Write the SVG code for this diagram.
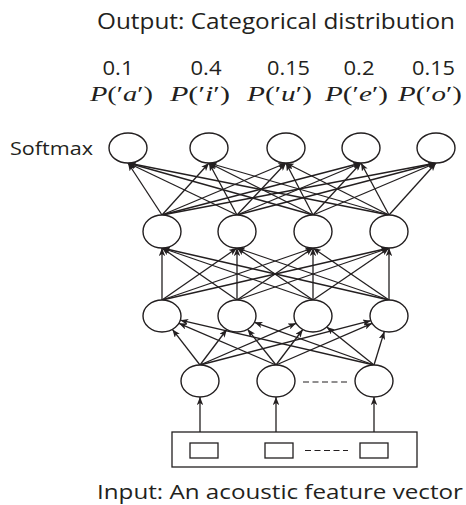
<svg xmlns="http://www.w3.org/2000/svg" width="466" height="505" viewBox="0 0 466 505">
  <style>
    .label { font-family: "Open Sans", "Liberation Sans", sans-serif; fill: #231f20; }
    .math { font-family: "Liberation Serif", "DejaVu Serif", serif; fill: #231f20; font-size: 20px; }
    .math .v { font-style: italic; }
    .node { fill: #fff; stroke: #231f20; stroke-width: 1.4; }
    .box { fill: #fff; stroke: #231f20; stroke-width: 1.3; }
    .edge { stroke: #231f20; stroke-width: 1.3; fill: none; marker-end: url(#arrow); }
    .dash { stroke: #231f20; stroke-width: 1.2; stroke-dasharray: 6 3.5; }
  </style>
  <defs>
    <marker id="arrow" viewBox="0 0 10 8" markerWidth="8" markerHeight="6.4" refX="10" refY="4" orient="auto" markerUnits="userSpaceOnUse">
      <path d="M0,0 L10,4 L0,8 L2.5,4 z" fill="#231f20"/>
    </marker>
  </defs>

  <rect width="466" height="505" fill="#fff"/>

  <!-- headings -->
  <text class="label" x="97" y="29" font-size="21" textLength="358" lengthAdjust="spacingAndGlyphs">Output: Categorical distribution</text>
  <text class="label" x="10" y="155" font-size="19" textLength="83" lengthAdjust="spacingAndGlyphs">Softmax</text>
  <text class="label" x="97" y="499" font-size="20" textLength="366" lengthAdjust="spacingAndGlyphs">Input: An acoustic feature vector</text>

  <!-- class probabilities -->
  <g class="label" font-size="20" text-anchor="middle">
    <text x="118" y="75" textLength="31" lengthAdjust="spacingAndGlyphs">0.1</text>
    <text x="206" y="75" textLength="31" lengthAdjust="spacingAndGlyphs">0.4</text>
    <text x="288.5" y="75" textLength="43" lengthAdjust="spacingAndGlyphs">0.15</text>
    <text x="359" y="75" textLength="31" lengthAdjust="spacingAndGlyphs">0.2</text>
    <text x="433.5" y="75" textLength="43" lengthAdjust="spacingAndGlyphs">0.15</text>
  </g>
  <g class="math">
    <text x="90" y="101" textLength="63" lengthAdjust="spacingAndGlyphs"><tspan class="v">P</tspan>(′<tspan class="v">a</tspan>′)</text>
    <text x="170" y="101" textLength="60" lengthAdjust="spacingAndGlyphs"><tspan class="v">P</tspan>(′<tspan class="v">i</tspan>′)</text>
    <text x="247" y="101" textLength="65" lengthAdjust="spacingAndGlyphs"><tspan class="v">P</tspan>(′<tspan class="v">u</tspan>′)</text>
    <text x="325" y="101" textLength="63" lengthAdjust="spacingAndGlyphs"><tspan class="v">P</tspan>(′<tspan class="v">e</tspan>′)</text>
    <text x="398" y="101" textLength="64" lengthAdjust="spacingAndGlyphs"><tspan class="v">P</tspan>(′<tspan class="v">o</tspan>′)</text>
  </g>

  <!-- connectors -->
  <g id="connectors">
    <!-- hidden layer 2 to softmax -->
    <path class="edge" d="M162,215 L128,163"/>
    <path class="edge" d="M162,215 L209,163"/>
    <path class="edge" d="M162,215 L286,163"/>
    <path class="edge" d="M162,215 L361,163"/>
    <path class="edge" d="M162,215 L436,163"/>
    <path class="edge" d="M237,215 L128,163"/>
    <path class="edge" d="M237,215 L209,163"/>
    <path class="edge" d="M237,215 L286,163"/>
    <path class="edge" d="M237,215 L361,163"/>
    <path class="edge" d="M237,215 L436,163"/>
    <path class="edge" d="M313,215 L128,163"/>
    <path class="edge" d="M313,215 L209,163"/>
    <path class="edge" d="M313,215 L286,163"/>
    <path class="edge" d="M313,215 L361,163"/>
    <path class="edge" d="M313,215 L436,163"/>
    <path class="edge" d="M389,215 L128,163"/>
    <path class="edge" d="M389,215 L209,163"/>
    <path class="edge" d="M389,215 L286,163"/>
    <path class="edge" d="M389,215 L361,163"/>
    <path class="edge" d="M389,215 L436,163"/>
    <!-- hidden layer 1 to hidden layer 2 -->
    <path class="edge" d="M162,300 L162,248"/>
    <path class="edge" d="M162,300 L237,248"/>
    <path class="edge" d="M162,300 L313,248"/>
    <path class="edge" d="M162,300 L389,248"/>
    <path class="edge" d="M237,300 L162,248"/>
    <path class="edge" d="M237,300 L237,248"/>
    <path class="edge" d="M237,300 L313,248"/>
    <path class="edge" d="M237,300 L389,248"/>
    <path class="edge" d="M313,300 L162,248"/>
    <path class="edge" d="M313,300 L237,248"/>
    <path class="edge" d="M313,300 L313,248"/>
    <path class="edge" d="M313,300 L389,248"/>
    <path class="edge" d="M389,300 L162,248"/>
    <path class="edge" d="M389,300 L237,248"/>
    <path class="edge" d="M389,300 L313,248"/>
    <path class="edge" d="M389,300 L389,248"/>
    <!-- input units to hidden layer 1 -->
    <path class="edge" d="M200,365 L172.4,329.4"/>
    <path class="edge" d="M200,365 L226.8,329.5"/>
    <path class="edge" d="M200,365 L296.1,323.3"/>
    <path class="edge" d="M200,365 L370.8,320.7"/>
    <path class="edge" d="M276,365 L178.9,323.3"/>
    <path class="edge" d="M276,365 L247.6,329.3"/>
    <path class="edge" d="M276,365 L302.8,329.5"/>
    <path class="edge" d="M276,365 L372.1,323.3"/>
    <path class="edge" d="M374,365 L180.3,320.2"/>
    <path class="edge" d="M374,365 L254.5,322.3"/>
    <path class="edge" d="M374,365 L326.7,327"/>
    <path class="edge" d="M374,365 L384.3,331.5"/>
    <!-- feature vector to input units -->
    <path class="edge" d="M200,432 L200,397"/>
    <path class="edge" d="M276,432 L276,397"/>
    <path class="edge" d="M374,432 L374,397"/>
  </g>

  <!-- softmax layer -->
  <g id="softmax-1"><ellipse class="node" cx="128" cy="148" rx="19" ry="15"/></g>
  <g id="softmax-2"><ellipse class="node" cx="209" cy="148" rx="19" ry="15"/></g>
  <g id="softmax-3"><ellipse class="node" cx="286" cy="148" rx="19" ry="15"/></g>
  <g id="softmax-4"><ellipse class="node" cx="361" cy="148" rx="19" ry="15"/></g>
  <g id="softmax-5"><ellipse class="node" cx="436" cy="148" rx="19" ry="15"/></g>

  <!-- hidden layer 2 -->
  <g id="hidden2-1"><ellipse class="node" cx="162" cy="231.5" rx="19" ry="16.5"/></g>
  <g id="hidden2-2"><ellipse class="node" cx="237" cy="231.5" rx="19" ry="16.5"/></g>
  <g id="hidden2-3"><ellipse class="node" cx="313" cy="231.5" rx="19" ry="16.5"/></g>
  <g id="hidden2-4"><ellipse class="node" cx="389" cy="231.5" rx="19" ry="16.5"/></g>

  <!-- hidden layer 1 -->
  <g id="hidden1-1"><ellipse class="node" cx="162" cy="316" rx="19" ry="16"/></g>
  <g id="hidden1-2"><ellipse class="node" cx="237" cy="316" rx="19" ry="16"/></g>
  <g id="hidden1-3"><ellipse class="node" cx="313" cy="316" rx="19" ry="16"/></g>
  <g id="hidden1-4"><ellipse class="node" cx="389" cy="316" rx="19" ry="16"/></g>

  <!-- input units -->
  <g id="input-1"><ellipse class="node" cx="200" cy="381" rx="19" ry="16"/></g>
  <g id="input-2"><ellipse class="node" cx="276" cy="381" rx="19" ry="16"/></g>
  <g id="input-3"><ellipse class="node" cx="374" cy="381" rx="19" ry="16"/></g>
  <line class="dash" x1="303" y1="382" x2="348" y2="382"/>

  <!-- feature vector -->
  <g id="feature-vector">
    <rect class="box" x="172" y="432" width="245" height="35"/>
    <rect class="box" x="190" y="443" width="28" height="15"/>
    <rect class="box" x="265" y="443" width="28" height="15"/>
    <rect class="box" x="360" y="443" width="28" height="15"/>
    <line class="dash" x1="305" y1="450.5" x2="348" y2="450.5"/>
  </g>
</svg>
